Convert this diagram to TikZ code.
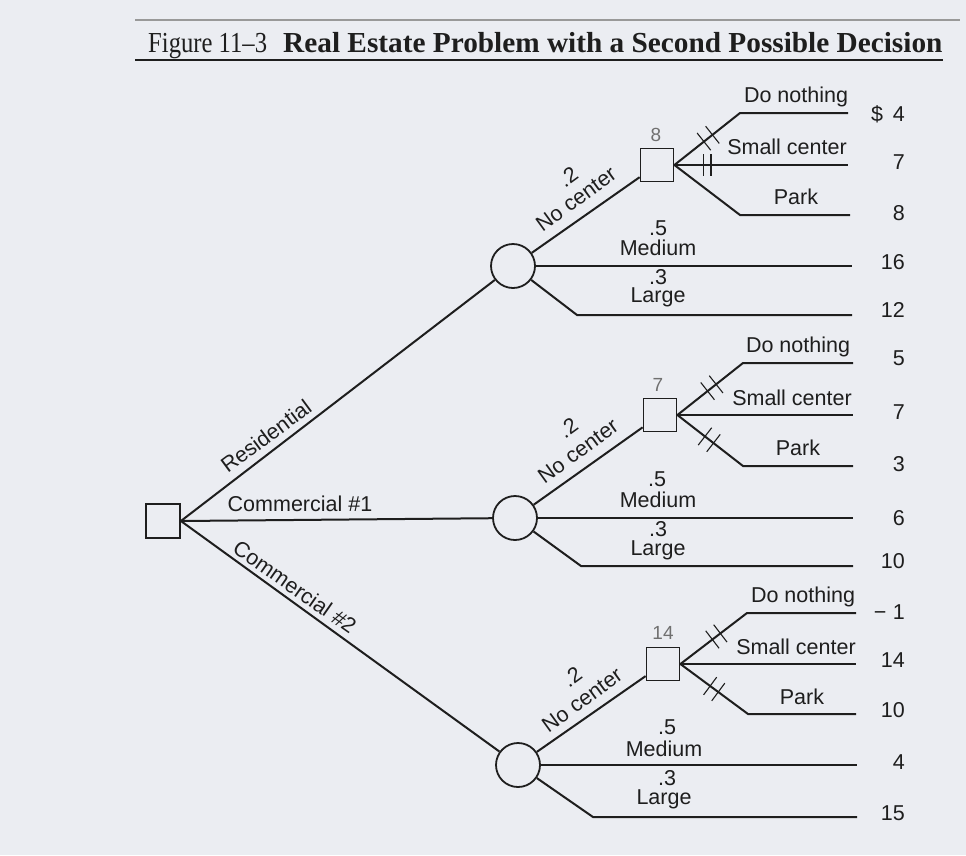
\documentclass[tikz,border=0pt]{standalone}
\usepackage{graphicx}
\usepackage{fontspec}
\setmainfont{Liberation Sans}
\newfontfamily\titlefont{Liberation Serif}
\usetikzlibrary{calc}
\definecolor{paper}{HTML}{EBEDF2}
\definecolor{ink}{HTML}{1E1E1E}
\definecolor{evgray}{HTML}{707070}
\newcommand\hashmk[3]{%
  \path (#1) -- (#2) coordinate[pos=#3] (hmtmp);
  \draw[hk] ($(hmtmp)!11pt!90:(#2)$) -- ($(hmtmp)!11pt!-90:(#2)$);}
\begin{document}
\begin{tikzpicture}[x=1pt,y=-1pt,
  dec/.style={draw=ink, line width=1.8pt, rectangle, minimum size=33pt, inner sep=0pt},
  chn/.style={draw=ink, line width=1.8pt, circle, minimum size=44pt, inner sep=0pt},
  br/.style={draw=ink, line width=2pt},
  lbl/.style={font=\fontsize{21.5}{24}\selectfont, text=ink, inner sep=0pt},
  val/.style={lbl, anchor=east},
  ev/.style={font=\fontsize{19}{21}\selectfont, text=evgray, inner sep=0pt},
  hk/.style={draw=ink, line width=1.1pt}]
\fill[paper] (0,0) rectangle (966,855);
\useasboundingbox (0,0) rectangle (966,855);

% title
\draw[gray!80, line width=1.5pt] (135,20) -- (960,20);
\node[anchor=base west, inner sep=0pt, text=ink] (t1) at (148,52)
  {\titlefont\fontsize{29}{32}\selectfont\scalebox{0.85}[1]{Figure 11–3}};
\node[anchor=base west, inner sep=0pt, text=ink] (t2) at (283,52)
  {\titlefont\bfseries\fontsize{29}{32}\selectfont\scalebox{1.01}[1]{Real Estate Problem with a Second Possible Decision}};
\draw[ink, line width=2pt] (135,60) -- (943,60);

% nodes
\node[dec, minimum size=34pt] (r) at (163,521) {};
\node[chn] (c1) at (513,266) {};
\node[chn] (c2) at (515,518) {};
\node[chn] (c3) at (518,765) {};
\node[dec] (s1) at (657,165) {};
\node[dec] (s2) at (660,415) {};
\node[dec] (s3) at (663,664) {};

% root branches
\draw[br] (r.east) -- (c1);
\draw[br] (r.east) -- (c2);
\draw[br] (r.east) -- (c3);
\node[lbl, rotate=36.5] (lres) at (266,436) {Residential};
\node[lbl] (lc1) at (300,504) {Commercial \#1};
\node[lbl, rotate=-35] (lc2) at (295,587) {Commercial \#2};

% ---------- top group
\coordinate (m1e) at (852,266);
\coordinate (l1k) at (577,315);
\coordinate (l1e) at (852,315);
\draw[br] (c1) -- (s1);
\draw[br] (c1) -- (m1e);
\draw[br] (c1) -- (l1k) -- (l1e);
\node[lbl, rotate=36] (p1a) at (568,177) {.2};
\node[lbl, rotate=36] (n1a) at (576,199) {No center};
\node[lbl] (p1b) at (658,228) {.5};
\node[lbl] (n1b) at (658,248) {Medium};
\node[lbl] (p1c) at (658,277) {.3};
\node[lbl] (n1c) at (658,297) {Large};
\node[val] (v1m) at (905,262) {16};
\node[val] (v1l) at (905,310) {12};
\node[ev] (e1) at (656,135) {8};
\coordinate (d1k) at (740,113);
\coordinate (d1e) at (848,113);
\coordinate (k1e) at (848,165);
\coordinate (q1k) at (740,215);
\coordinate (q1e) at (850,215);
\draw[br] (s1.east) -- (d1k) -- (d1e);
\draw[br] (s1.east) -- (k1e);
\draw[br] (s1.east) -- (q1k) -- (q1e);
\hashmk{s1.east}{d1k}{0.45}
\hashmk{s1.east}{d1k}{0.58}
\hashmk{s1.east}{k1e}{0.166}
\hashmk{s1.east}{k1e}{0.211}
\node[lbl] (o1a) at (796,97) {Do nothing};
\node[lbl] (o1b) at (787,147) {Small center};
\node[lbl] (o1c) at (796,197) {Park};
\node[val] (v1a) at (905,114) {\$\hspace{0.45em}4};
\node[val] (v1b) at (905,162) {7};
\node[val] (v1c) at (905,213) {8};

% ---------- middle group
\coordinate (m2e) at (853,518);
\coordinate (l2k) at (581,566);
\coordinate (l2e) at (853,566);
\draw[br] (c2) -- (s2);
\draw[br] (c2) -- (m2e);
\draw[br] (c2) -- (l2k) -- (l2e);
\node[lbl, rotate=36] (p2a) at (568,428) {.2};
\node[lbl, rotate=36] (n2a) at (578,451) {No center};
\node[lbl] (p2b) at (657,479) {.5};
\node[lbl] (n2b) at (658,500) {Medium};
\node[lbl] (p2c) at (658,529) {.3};
\node[lbl] (n2c) at (658,550) {Large};
\node[val] (v2m) at (905,518) {6};
\node[val] (v2l) at (905,561) {10};
\node[ev] (e2) at (658,385) {7};
\coordinate (d2k) at (743,363);
\coordinate (d2e) at (853,363);
\coordinate (k2e) at (853,415);
\coordinate (q2k) at (743,466);
\coordinate (q2e) at (853,466);
\draw[br] (s2.east) -- (d2k) -- (d2e);
\draw[br] (s2.east) -- (k2e);
\draw[br] (s2.east) -- (q2k) -- (q2e);
\hashmk{s2.east}{d2k}{0.46}
\hashmk{s2.east}{d2k}{0.59}
\hashmk{s2.east}{q2k}{0.42}
\hashmk{s2.east}{q2k}{0.55}
\node[lbl] (o2a) at (798,347) {Do nothing};
\node[lbl] (o2b) at (792,398) {Small center};
\node[lbl] (o2c) at (798,448) {Park};
\node[val] (v2a) at (905,358) {5};
\node[val] (v2b) at (905,412) {7};
\node[val] (v2c) at (905,464) {3};

% ---------- bottom group
\coordinate (m3e) at (857,765);
\coordinate (l3k) at (593,817);
\coordinate (l3e) at (857,817);
\draw[br] (c3) -- (s3);
\draw[br] (c3) -- (m3e);
\draw[br] (c3) -- (l3k) -- (l3e);
\node[lbl, rotate=36] (p3a) at (572,677) {.2};
\node[lbl, rotate=36] (n3a) at (582,700) {No center};
\node[lbl] (p3b) at (667,727) {.5};
\node[lbl] (n3b) at (664,749) {Medium};
\node[lbl] (p3c) at (667,778) {.3};
\node[lbl] (n3c) at (664,799) {Large};
\node[val] (v3m) at (905,762) {4};
\node[val] (v3l) at (905,813) {15};
\node[ev] (e3) at (663,633) {14};
\coordinate (d3k) at (747,613);
\coordinate (d3e) at (856,613);
\coordinate (k3e) at (856,664);
\coordinate (q3k) at (748,714);
\coordinate (q3e) at (856,714);
\draw[br] (s3.east) -- (d3k) -- (d3e);
\draw[br] (s3.east) -- (k3e);
\draw[br] (s3.east) -- (q3k) -- (q3e);
\hashmk{s3.east}{d3k}{0.48}
\hashmk{s3.east}{d3k}{0.60}
\hashmk{s3.east}{q3k}{0.44}
\hashmk{s3.east}{q3k}{0.56}
\node[lbl] (o3a) at (803,597) {Do nothing};
\node[lbl] (o3b) at (796,647) {Small center};
\node[lbl] (o3c) at (802,697) {Park};
\node[val] (v3a) at (905,612) {\textminus\hspace{0.3em}1};
\node[val] (v3b) at (905,660) {14};
\node[val] (v3c) at (905,710) {10};
\end{tikzpicture}
\end{document}
